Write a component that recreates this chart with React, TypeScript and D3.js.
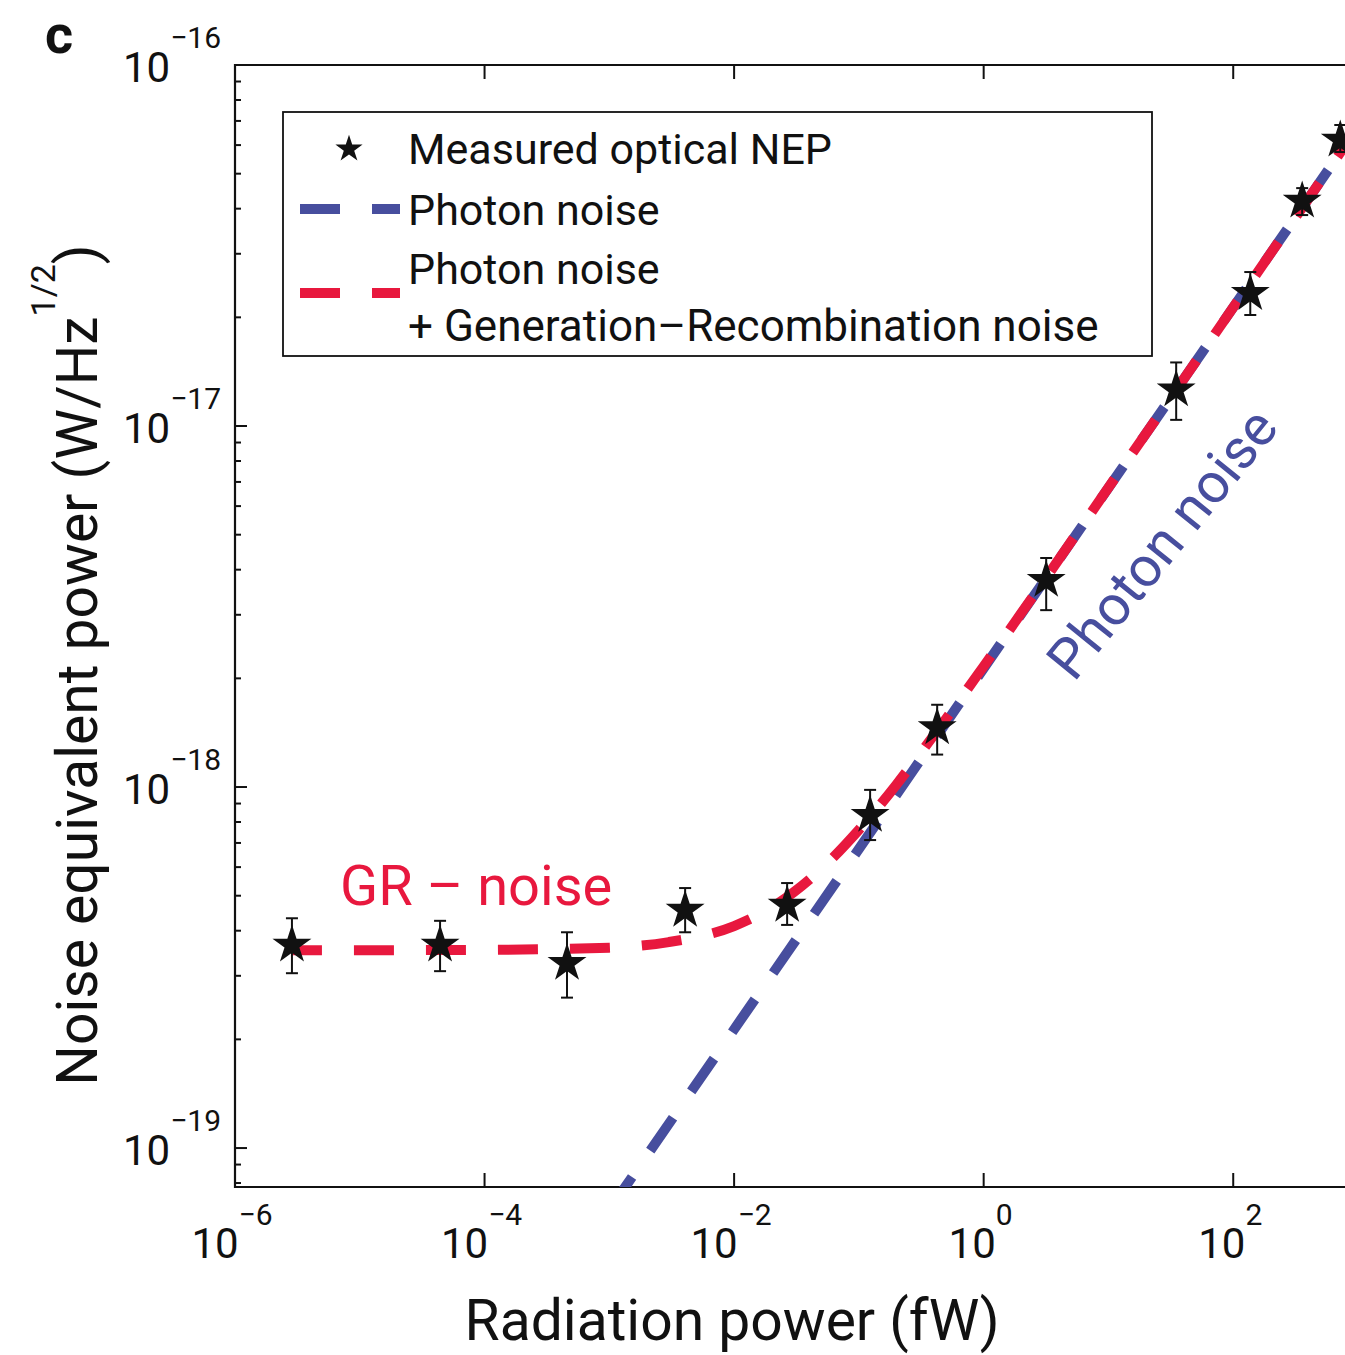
import React from "react";
import * as d3 from "d3";

// ---- data ----
const xTickExps = [-6, -4, -2, 0, 2];
const yTickExps = [-16, -17, -18, -19];
const yMinorMults = [2, 3, 4, 5, 6, 7, 8, 9];

const measuredPower = [2.86e-6, 4.4e-5, 4.58e-4, 4.05e-3, 0.0266, 0.123, 0.424, 3.17, 34.9, 137, 357, 721];
const measuredNEP = [3.65e-19, 3.65e-19, 3.25e-19, 4.56e-19, 4.71e-19, 8.35e-19, 1.46e-18, 3.74e-18, 1.26e-17, 2.33e-17, 4.2e-17, 6.2e-17];
const nepErrLow = [3.05e-19, 3.09e-19, 2.61e-19, 3.96e-19, 4.15e-19, 7.13e-19, 1.23e-18, 3.09e-18, 1.04e-17, 2.03e-17, 3.84e-17, 5.74e-17];
const nepErrHigh = [4.33e-19, 4.26e-19, 3.96e-19, 5.25e-19, 5.42e-19, 9.82e-19, 1.69e-18, 4.31e-18, 1.5e-17, 2.67e-17, 4.56e-17, 6.82e-17];

const photonPower = [1e-3, 1000];
const photonNEP = [6.74e-20, 6.74e-17];

const totalPower = [2.86e-6, 1e-4, 1e-3, 3e-3, 1e-2, 2e-2, 3e-2, 5e-2, 0.1, 0.2, 0.3, 0.5, 1, 2, 10, 100, 1000];
const totalNEP = [3.53e-19, 3.54e-19, 3.59e-19, 3.72e-19, 4.12e-19, 4.64e-19, 5.11e-19, 5.93e-19, 7.61e-19, 1.016e-18, 1.22e-18, 1.547e-18, 2.16e-18, 3.03e-18, 6.75e-18, 2.13e-17, 6.74e-17];

const legendLabels = ["Measured optical NEP", "Photon noise", "Photon noise", "+ Generation\u2013Recombination noise"];

// ---- styles ----
const RED = "#E8183E";
const BLUE = "#474E9E";
const FONT = "Roboto, sans-serif";

const W = 1345;
const H = 1355;
const L = 235;
const T = 65;
const B = 1187;
const R = 1358;

export default function App() {
  const x = d3.scaleLog().domain([1e-6, 1e3]).range([L, R]);
  const y = d3.scaleLog().domain([1e-16, 7.8e-20]).range([T, B]);

  const line = d3
    .line<[number, number]>()
    .x((d) => x(d[0]))
    .y((d) => y(d[1]));
  const curve = d3
    .line<[number, number]>()
    .x((d) => x(d[0]))
    .y((d) => y(d[1]))
    .curve(d3.curveMonotoneX);

  const photonPts = photonPower.map((p, i) => [p, photonNEP[i]] as [number, number]);
  const totalPts = totalPower.map((p, i) => [p, totalNEP[i]] as [number, number]);

  const star = d3.symbol().type(d3.symbolStar).size(470)();
  const legendStar = d3.symbol().type(d3.symbolStar).size(230)();

  const yMinor: number[] = [];
  [-20, -19, -18, -17].forEach((e) => {
    yMinorMults.forEach((m) => {
      const v = m * Math.pow(10, e);
      if (v > 7.8e-20 && v < 1e-16) yMinor.push(v);
    });
  });

  return (
    <svg
      width={W}
      height={H}
      style={{ position: "absolute", left: 0, top: 0, background: "#fff" }}
      fontFamily={FONT}
    >
      <defs>
        <clipPath id="plotClip">
          <rect x={L} y={T} width={R - L} height={B - T} />
        </clipPath>
      </defs>

      {/* panel letter */}
      <text x={45} y={53} fontSize={54} fontWeight="bold" fill="#111">
        c
      </text>

      {/* frame */}
      <path d={`M${R},${T}H${L}V${B}H${R}`} fill="none" stroke="#111" strokeWidth={2.2} />

      {/* y ticks */}
      {yTickExps.map((e) => (
        <line key={"ymaj" + e} x1={L} x2={L + 12} y1={y(Math.pow(10, e))} y2={y(Math.pow(10, e))} stroke="#111" strokeWidth={2} />
      ))}
      {yMinor.map((v, i) => (
        <line key={"ymin" + i} x1={L} x2={L + 6} y1={y(v)} y2={y(v)} stroke="#111" strokeWidth={2} />
      ))}
      {/* x ticks bottom & top */}
      {xTickExps.map((e) => (
        <g key={"xt" + e}>
          <line x1={x(Math.pow(10, e))} x2={x(Math.pow(10, e))} y1={B} y2={B - 14} stroke="#111" strokeWidth={2} />
          <line x1={x(Math.pow(10, e))} x2={x(Math.pow(10, e))} y1={T} y2={T + 14} stroke="#111" strokeWidth={2} />
        </g>
      ))}

      {/* y tick labels */}
      {yTickExps.map((e) => (
        <text key={"yl" + e} x={221} y={y(Math.pow(10, e)) + 17} textAnchor="end" fontSize={42} fill="#111">
          <tspan>10</tspan>
          <tspan dy={-34} fontSize={30}>{"\u2212" + Math.abs(e)}</tspan>
        </text>
      ))}
      {/* x tick labels */}
      {xTickExps.map((e) => (
        <text key={"xl" + e} x={x(Math.pow(10, e)) - 3} y={1258} textAnchor="middle" fontSize={42} fill="#111">
          <tspan>10</tspan>
          <tspan dy={-33} fontSize={30}>{e < 0 ? "\u2212" + Math.abs(e) : String(e)}</tspan>
        </text>
      ))}

      {/* axis titles */}
      <text x={732} y={1340} textAnchor="middle" fontSize={57} fill="#111">
        Radiation power (fW)
      </text>
      <text transform="translate(97,665) rotate(-90)" textAnchor="middle" fontSize={57} fill="#111">
        <tspan>Noise equivalent power (W/Hz</tspan>
        <tspan dy={-42} fontSize={34}>1/2</tspan>
        <tspan dy={42}>)</tspan>
      </text>

      {/* curves */}
      <g clipPath="url(#plotClip)">
        <path d={line(photonPts) || ""} fill="none" stroke={BLUE} strokeWidth={10} strokeDasharray="40 32" />
        <path d={curve(totalPts) || ""} fill="none" stroke={RED} strokeWidth={10} strokeDasharray="40 32" strokeDashoffset={10} />
      </g>

      {/* measured points */}
      <g>
        {measuredPower.map((p, i) => {
          const cx = x(p);
          return (
            <g key={"pt" + i}>
              <line x1={cx} x2={cx} y1={y(nepErrLow[i])} y2={y(nepErrHigh[i])} stroke="#111" strokeWidth={2} />
              <line x1={cx - 6} x2={cx + 6} y1={y(nepErrLow[i])} y2={y(nepErrLow[i])} stroke="#111" strokeWidth={2} />
              <line x1={cx - 6} x2={cx + 6} y1={y(nepErrHigh[i])} y2={y(nepErrHigh[i])} stroke="#111" strokeWidth={2} />
              <path d={star || ""} transform={`translate(${cx},${y(measuredNEP[i])})`} fill="#111" />
            </g>
          );
        })}
      </g>

      {/* annotations */}
      <text x={340} y={905} fontSize={56} fill={RED}>
        GR {"\u2013"} noise
      </text>
      <text transform="translate(1074,683) rotate(-51)" fontSize={56} fill={BLUE}>
        Photon noise
      </text>

      {/* legend */}
      <rect x={283} y={112} width={869} height={244} fill="#fff" stroke="#111" strokeWidth={1.8} />
      <path d={legendStar || ""} transform="translate(349,149)" fill="#111" />
      <line x1={300} x2={400} y1={209} y2={209} stroke={BLUE} strokeWidth={10} strokeDasharray="40 32" />
      <line x1={300} x2={400} y1={293} y2={293} stroke={RED} strokeWidth={10} strokeDasharray="40 32" />
      <text x={408} y={164} fontSize={43} fill="#111">{legendLabels[0]}</text>
      <text x={408} y={225} fontSize={43} fill="#111">{legendLabels[1]}</text>
      <text x={408} y={284} fontSize={43} fill="#111">{legendLabels[2]}</text>
      <text x={408} y={341} fontSize={44} fill="#111">{legendLabels[3]}</text>
    </svg>
  );
}
